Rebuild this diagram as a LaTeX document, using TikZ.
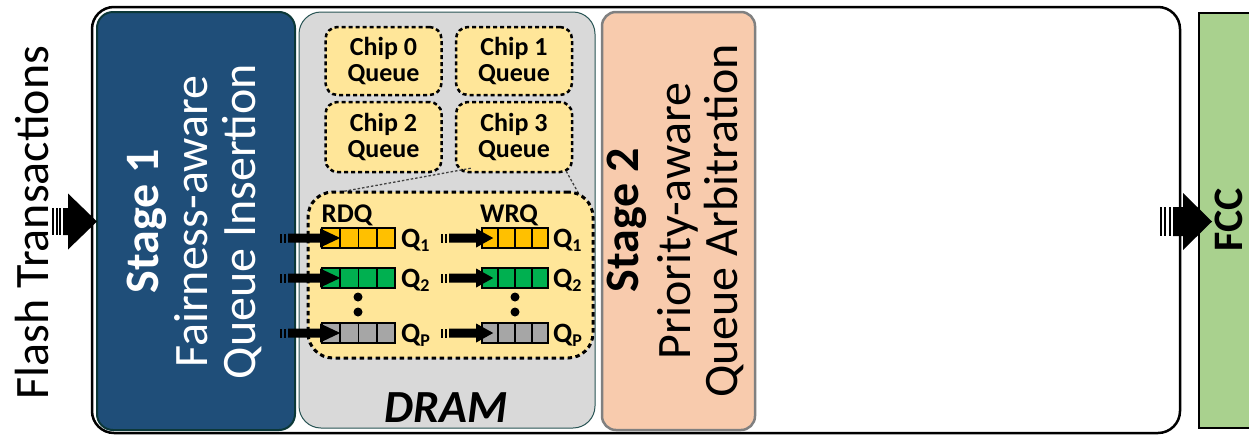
\documentclass[tikz,border=0pt]{standalone}
\usepackage{fontspec}
\setmainfont{Carlito}
\usetikzlibrary{calc}
\definecolor{s1blue}{RGB}{31,78,121}
\definecolor{s1edge}{RGB}{12,56,56}
\definecolor{dramgray}{RGB}{217,217,217}
\definecolor{dramedge}{RGB}{40,84,84}
\definecolor{qyellow}{RGB}{255,230,153}
\definecolor{s2fill}{RGB}{248,203,173}
\definecolor{s2edge}{RGB}{128,128,128}
\definecolor{fccgreen}{RGB}{169,209,142}
\definecolor{qgold}{RGB}{255,192,0}
\definecolor{qgreen}{RGB}{0,176,80}
\definecolor{qgray}{RGB}{166,166,166}
\newcommand{\qsub}[1]{\raisebox{-4pt}{\fontsize{18}{18}\selectfont #1}}
\newcommand{\qcells}[1]{\foreach \f in {0.25,0.5,0.75}{\draw[line width=1.6pt] ($(#1.north west)!\f!(#1.north east)$) -- ($(#1.south west)!\f!(#1.south east)$);}}
\tikzset{
  pics/sarrow/.style n args={6}{code={
    \fill (0,0) -- (-#1,#2) -- (-#1,#3) -- ({-#1-#4},#3) -- ({-#1-#4},-#3) -- (-#1,-#3) -- (-#1,-#2) -- cycle;
    \foreach \k in {1,...,#6}{\fill ({-#1-#4-2*\k*#5},#3) rectangle ({-#1-#4-(2*\k-1)*#5},-#3);}
  }},
  bigbox/.style={inner sep=0pt, outer sep=0pt},
  chipbox/.style={draw, fill=qyellow, dash pattern=on 4pt off 3pt, line width=2.5pt, rounded corners=12pt,
    inner sep=0pt, minimum width=116pt, align=center, font=\bfseries\fontsize{26}{26}\selectfont},
  queue/.style={draw, line width=1.6pt, inner sep=0pt, minimum height=20pt},
  qlabel/.style={anchor=base west, inner sep=0pt, font=\bfseries\fontsize{28}{28}\selectfont},
  vtext/.style={rotate=90, anchor=base, inner sep=0pt, font=\fontsize{48}{48}\selectfont},
  dotc/.style={dash pattern=on 2.5pt off 2pt, line width=1.3pt, black!75},
}
\begin{document}
\begin{tikzpicture}[x=1pt,y=-1pt]
\useasboundingbox (0,0) rectangle (1249,437);
\clip (0,0) rectangle (1249,437);
\fill[white] (0,0) rectangle (1249,437);
% outer frame
\node[bigbox, draw, line width=2.5pt, fill=white, rounded corners=22pt, minimum width=1088pt, minimum height=426pt] (frame) at (636,220) {};
% main blocks
\node[bigbox, draw=s1edge, line width=2pt, fill=s1blue, rounded corners=16pt, minimum width=198pt, minimum height=418pt] (stage1) at (196,221) {};
\node[bigbox, draw=dramedge, line width=1pt, fill=dramgray, rounded corners=22pt, minimum width=296pt, minimum height=416pt] (dram) at (447,220) {};
\node[bigbox, draw=s2edge, line width=2.5pt, fill=s2fill, rounded corners=14pt, minimum width=153pt, minimum height=418pt] (stage2) at (678.5,221) {};
\node[bigbox, draw, line width=2pt, fill=fccgreen, minimum width=72pt, minimum height=415pt] (fcc) at (1235,220.5) {};
% texts
\node[vtext] (flash) at (48,222.5) {Flash Transactions};
\node[vtext, white, font=\bfseries\fontsize{48}{48}\selectfont] (s1a) at (158,221.5) {Stage 1};
\node[vtext, white] (s1b) at (207.5,221.5) {Fairness-aware};
\node[vtext, white] (s1c) at (255.5,221.5) {Queue Insertion};
\node[vtext, font=\bfseries\fontsize{48}{48}\selectfont] (s2a) at (638,220) {Stage 2};
\node[vtext] (s2b) at (690,221) {Priority-aware};
\node[vtext] (s2c) at (737,221) {Queue Arbitration};
\node[vtext, font=\bfseries\fontsize{42}{42}\selectfont] (fcct) at (1242,220) {FCC};
\node[anchor=base, inner sep=0pt, font=\bfseries\itshape\fontsize{46}{46}\selectfont] (dramt) at (446,422) {DRAM};
% chip queues
\node[chipbox, minimum height=68pt] (chip0) at (383.5,61) {Chip 0\\Queue};
\node[chipbox, minimum height=68pt] (chip1) at (514,61) {Chip 1\\Queue};
\node[chipbox, minimum height=70pt] (chip2) at (383.5,137) {Chip 2\\Queue};
\node[chipbox, minimum height=70pt] (chip3) at (514,137) {Chip 3\\Queue};
% zoom lines
\draw[dotc] ($(chip3.south west)+(16,-5)$) -- ($(dram.north west)+(41,180)$) coordinate (zl);
\draw[dotc] ($(chip3.south east)+(-7,-2)$) -- ($(dram.north east)+(-15,184)$) coordinate (zr);
% expanded region
\node[draw, fill=qyellow, dash pattern=on 4.5pt off 3.5pt, line width=3pt, rounded corners=25pt, inner sep=0pt,
      minimum width=285pt, minimum height=166pt] (region) at (450.5,275) {};
\node[anchor=base, inner sep=0pt, font=\bfseries\fontsize{27}{27}\selectfont] (rdq) at (347,222) {RDQ};
\node[anchor=base, inner sep=0pt, font=\bfseries\fontsize{27}{27}\selectfont] (wrq) at (509,222) {WRQ};
% queues
\node[queue, fill=qgold, minimum width=73pt] (r1) at (358.5,238) {};
\node[queue, fill=qgreen, minimum width=73pt] (r2) at (358.5,278) {};
\node[queue, fill=qgray, minimum width=73pt] (rp) at (358.5,333) {};
\node[queue, fill=qgold, minimum width=66pt] (w1) at (515,238) {};
\node[queue, fill=qgreen, minimum width=66pt] (w2) at (515,278) {};
\node[queue, fill=qgray, minimum width=66pt] (wp) at (515,333) {};
\qcells{r1}\qcells{r2}\qcells{rp}\qcells{w1}\qcells{w2}\qcells{wp}
\fill (358,297) circle (4.5pt) (358,312) circle (4.5pt);
\fill (515,297) circle (4.5pt) (515,312) circle (4.5pt);
% queue labels
\node[qlabel] (lr1) at (401,247) {Q\qsub{1}};
\node[qlabel] (lr2) at (401,287) {Q\qsub{2}};
\node[qlabel] (lrp) at (401,342) {Q\qsub{P}};
\node[qlabel] (lw1) at (553,247) {Q\qsub{1}};
\node[qlabel] (lw2) at (553,287) {Q\qsub{2}};
\node[qlabel] (lwp) at (553,342) {Q\qsub{P}};
% arrows into queues
\foreach \q in {r1,r2,rp}{\pic at ($(\q.west)+(19,0)$) {sarrow={20}{9.5}{4.5}{32}{2}{2}};}
\foreach \q in {w1,w2,wp}{\pic at ($(\q.west)+(12,0)$) {sarrow={17}{9.5}{4.5}{27}{2}{2}};}
% block arrows
\pic at ($(stage1.west)+(0,0.5)$) {sarrow={29}{28}{13.5}{5}{1.8}{3}};
\pic at ($(fcc.west)+(13,1)$) {sarrow={29}{28.5}{14.5}{10}{2.2}{3}};
\end{tikzpicture}
\end{document}
